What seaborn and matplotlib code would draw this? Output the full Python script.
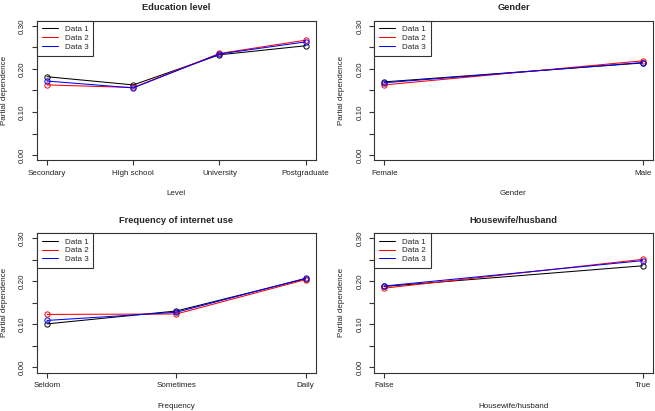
import pandas as pd
import matplotlib
matplotlib.use("Agg")
import matplotlib.pyplot as plt
import seaborn as sns

# Partial dependence values
series = ["Data 1", "Data 2", "Data 3"]
colors = ["black", "red", "blue"]

edu_levels = ["Secondary", "High school", "University", "Postgraduate"]
edu_d1 = [0.182, 0.163, 0.233, 0.254]
edu_d2 = [0.163, 0.157, 0.236, 0.267]
edu_d3 = [0.172, 0.156, 0.235, 0.263]

gender_levels = ["Female", "Male"]
gender_d1 = [0.170, 0.214]
gender_d2 = [0.163, 0.219]
gender_d3 = [0.168, 0.215]

freq_levels = ["Seldom", "Sometimes", "Daily"]
freq_d1 = [0.101, 0.131, 0.206]
freq_d2 = [0.123, 0.124, 0.204]
freq_d3 = [0.109, 0.128, 0.207]

house_levels = ["False", "True"]
house_d1 = [0.188, 0.236]
house_d2 = [0.184, 0.251]
house_d3 = [0.189, 0.248]

panels = [
    ("Education level", "Level", edu_levels, [edu_d1, edu_d2, edu_d3]),
    ("Gender", "Gender", gender_levels, [gender_d1, gender_d2, gender_d3]),
    ("Frequency of internet use", "Frequency", freq_levels, [freq_d1, freq_d2, freq_d3]),
    ("Housewife/husband", "Housewife/husband", house_levels, [house_d1, house_d2, house_d3]),
]

sns.set_theme(style="ticks")
plt.rcParams["font.family"] = ["Liberation Sans", "DejaVu Sans"]
plt.rcParams["axes.linewidth"] = 0.8
plt.rcParams["xtick.major.width"] = 0.8
plt.rcParams["ytick.major.width"] = 0.8
plt.rcParams["xtick.minor.width"] = 0.8
plt.rcParams["ytick.minor.width"] = 0.8

W, H = 655, 411
fig = plt.figure(figsize=(W / 100, H / 100), dpi=100)

# axes boxes in pixels: (left, top, right, bottom)
boxes = [(36.7, 20.8, 316, 160.2), (374, 20.8, 653, 160.2),
         (36.7, 233.1, 316, 372.5), (374, 233.1, 653, 372.5)]

fs = 5.8
for (title, xlab, levels, vals), (l, t, r, b) in zip(panels, boxes):
    ax = fig.add_axes([l / W, 1 - b / H, (r - l) / W, (b - t) / H])
    rows = []
    for name, v in zip(series, vals):
        for i, lev in enumerate(levels):
            rows.append({"pos": i, "level": lev, "series": name, "value": v[i]})
    df = pd.DataFrame(rows)
    for name, c in zip(series, colors):
        sns.lineplot(data=df[df["series"] == name], x="pos", y="value", ax=ax,
                     color=c, linewidth=0.75, marker="o", markersize=3.8,
                     markerfacecolor="none", markeredgecolor=c,
                     markeredgewidth=0.7, label=name)
    n = len(levels)
    ext = (n - 1) * 0.04
    ax.set_xlim(-ext, n - 1 + ext)
    ax.set_ylim(-0.012, 0.312)
    ax.set_xticks(range(n))
    ax.set_xticklabels(levels, fontsize=fs, color="#222222")
    ax.set_yticks([0.0, 0.1, 0.2, 0.3])
    ax.set_yticklabels(["0.00", "0.10", "0.20", "0.30"], fontsize=fs,
                       rotation=90, va="center", color="#222222")
    ax.set_yticks([0.05, 0.15, 0.25], minor=True)
    ax.tick_params(axis="both", which="both", direction="out", length=3.6,
                   color="#333333")
    ax.tick_params(axis="x", pad=3.5)
    ax.tick_params(axis="y", pad=4)
    for s in ax.spines.values():
        s.set_color("#333333")
    ax.set_title(title, fontsize=6.7, fontweight="bold", pad=7.5)
    ax.set_xlabel(xlab, fontsize=fs, labelpad=9.5, color="#222222")
    ax.set_ylabel("Partial dependence", fontsize=fs, labelpad=8, color="#222222")
    leg = ax.legend(loc="upper left", borderaxespad=0, fancybox=False,
                    edgecolor="#333333", framealpha=1, fontsize=fs,
                    handlelength=2.0, handletextpad=0.9, labelspacing=0.15,
                    borderpad=0.6)
    leg.get_frame().set_linewidth(0.8)
    for h in leg.legend_handles:
        h.set_marker("")

fig.savefig("out.png", dpi=100)
